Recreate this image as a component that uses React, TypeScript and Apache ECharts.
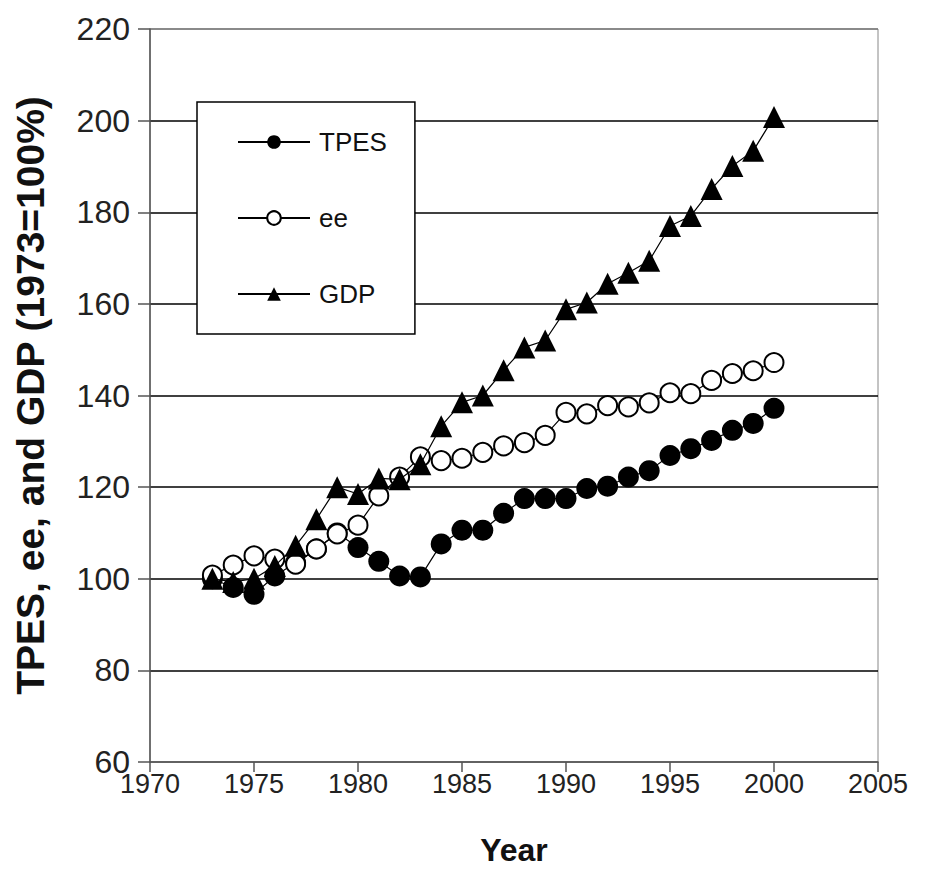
import React, { useEffect, useRef } from "react";
import * as echarts from "echarts";

const years = [1973, 1974, 1975, 1976, 1977, 1978, 1979, 1980, 1981, 1982, 1983, 1984, 1985, 1986, 1987, 1988, 1989, 1990, 1991, 1992, 1993, 1994, 1995, 1996, 1997, 1998, 1999, 2000];
const tpes = [100, 98.1, 96.6, 100.6, 103.5, 106.5, 110, 106.8, 103.8, 100.6, 100.4, 107.6, 110.6, 110.6, 114.3, 117.5, 117.5, 117.5, 119.7, 120.2, 122.2, 123.6, 126.9, 128.4, 130.2, 132.4, 133.9, 137.2];
const ee = [100.8, 103, 105, 104.3, 103.2, 106.5, 109.8, 111.7, 118.1, 122.2, 126.6, 125.8, 126.3, 127.6, 129, 129.7, 131.3, 136.3, 136, 137.8, 137.5, 138.4, 140.6, 140.4, 143.3, 144.8, 145.4, 147.2];
const gdp = [100, 99.3, 100, 102.8, 107.2, 113, 120, 118.5, 121.9, 121.7, 125, 133.3, 138.5, 140, 145.5, 150.5, 152, 158.8, 160.3, 164.4, 166.8, 169.4, 177, 179.2, 185.1, 190.1, 193.4, 200.8];
const seriesNames = ["TPES", "ee", "GDP"];
const xTitle = "Year";
const yTitle = "TPES, ee, and GDP (1973=100%)";

const FONT = "'Liberation Sans', Arial, Helvetica, sans-serif";

export default function App() {
  const ref = useRef<HTMLDivElement>(null);
  useEffect(() => {
    if (!ref.current) return;
    const chart = echarts.init(ref.current, undefined, { renderer: "svg" });
    const pair = (vals: number[]) => years.map((y, i) => [y, vals[i]]);
    chart.setOption({
      animation: false,
      backgroundColor: "#fff",
      grid: {
        left: 150,
        right: 48,
        top: 29,
        bottom: 119,
        show: true,
        borderColor: "#888",
        borderWidth: 1,
        backgroundColor: "transparent",
      },
      legend: {
        orient: "vertical",
        left: 197,
        top: 102,
        padding: [27, 28, 27, 40],
        itemWidth: 72,
        itemHeight: 17,
        itemGap: 50,
        backgroundColor: "#fff",
        borderColor: "#000",
        borderWidth: 1.5,
        textStyle: { fontFamily: FONT, fontSize: 26, color: "#111", lineHeight: 22, padding: [0, 0, 0, 4] },
        data: seriesNames,
      },
      xAxis: {
        type: "value",
        min: 1970,
        max: 2005,
        interval: 5,
        name: xTitle,
        nameLocation: "middle",
        nameGap: 72,
        nameTextStyle: { fontFamily: FONT, fontSize: 32, fontWeight: "bold", color: "#111" },
        axisLine: { show: true, lineStyle: { color: "#555", width: 1.5 } },
        axisTick: { show: true, length: 10, lineStyle: { color: "#555", width: 1.5 } },
        axisLabel: { fontFamily: FONT, fontSize: 27, color: "#222", margin: 8, formatter: (v: number) => String(v) },
        splitLine: { show: false },
      },
      yAxis: {
        type: "value",
        min: 60,
        max: 220,
        interval: 20,
        name: yTitle,
        nameLocation: "middle",
        nameRotate: 90,
        nameGap: 100,
        nameTextStyle: { fontFamily: FONT, fontSize: 39, fontWeight: "bold", color: "#111" },
        axisLine: { show: true, lineStyle: { color: "#555", width: 1.5 } },
        axisTick: { show: true, length: 12, lineStyle: { color: "#555", width: 1.5 } },
        axisLabel: { fontFamily: FONT, fontSize: 32, color: "#222", margin: 20 },
        splitLine: {
          show: true,
          lineStyle: {
            color: ["#777", "#000", "#000", "#000", "#000", "#000", "#000", "#000", "#777"],
            width: 1.5,
          },
        },
      },
      series: [
        {
          name: seriesNames[0],
          type: "line",
          data: pair(tpes),
          symbol: "circle",
          symbolSize: 21,
          itemStyle: { color: "#000" },
          lineStyle: { color: "#000", width: 1.2 },
          z: 2,
        },
        {
          name: seriesNames[1],
          type: "line",
          data: pair(ee),
          symbol: "emptyCircle",
          symbolSize: 19,
          itemStyle: { color: "#000", borderWidth: 1.5 },
          lineStyle: { color: "#000", width: 1.2 },
          z: 3,
        },
        {
          name: seriesNames[2],
          type: "line",
          data: pair(gdp),
          symbol: "triangle",
          symbolSize: 22,
          itemStyle: { color: "#000" },
          lineStyle: { color: "#000", width: 1.2 },
          z: 4,
        },
      ],
    });
    return () => chart.dispose();
  }, []);
  return <div ref={ref} style={{ position: "fixed", left: 0, top: 0, width: 926, height: 881 }} />;
}
